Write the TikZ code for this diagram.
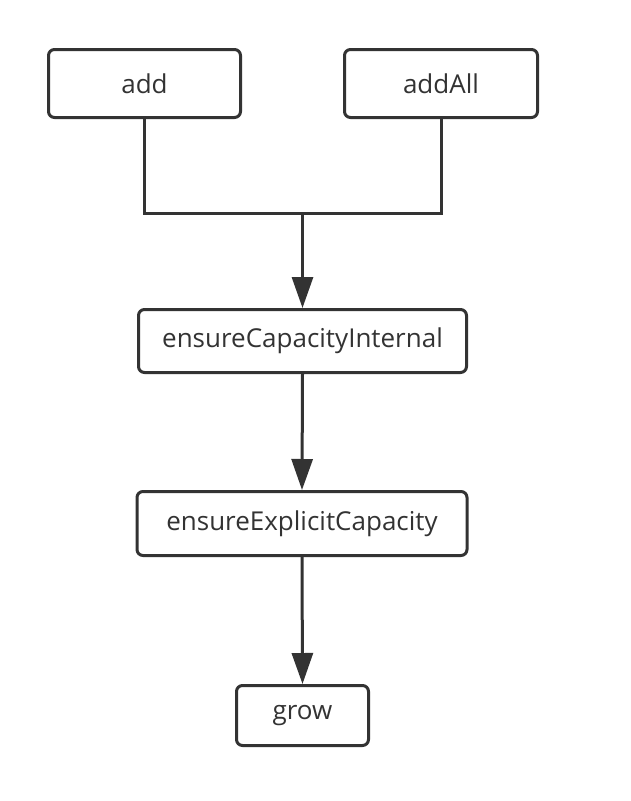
\documentclass[tikz,border=0pt]{standalone}
\usepackage{fontspec}
\setmainfont{Open Sans}
\usetikzlibrary{arrows.meta}
\definecolor{ink}{HTML}{333333}
\begin{document}
\begin{tikzpicture}[x=1pt,y=-1pt,
  box/.style={draw=ink,line width=3pt,rounded corners=6pt,fill=white,
    text=ink,font=\fontsize{26}{30}\selectfont,inner sep=0pt},
  conn/.style={draw=ink,line width=3pt},
  arr/.style={conn,-{Triangle[length=31pt,width=21pt]}}]
\useasboundingbox[fill=white] (0,0) rectangle (630,801);
\node[box,minimum width=192pt,minimum height=68pt] (add) at (144.5,83.5) {add};
\node[box,minimum width=193pt,minimum height=68pt] (addAll) at (441,83.5) {addAll};
\node[box,minimum width=328pt,minimum height=63pt] (eci) at (302.5,341) {ensureCapacityInternal};
\node[box,minimum width=330pt,minimum height=64pt] (eec) at (302,523.5) {ensureExplicitCapacity};
\node[box,minimum width=132pt,minimum height=60pt] (grow) at (302.5,715.5) {grow};
\coordinate (j) at (302.5,213);
\draw[conn] (add.south) -- (add.south |- j) -- (addAll.south |- j) -- (addAll.south);
\draw[arr] (j) -- (eci.north);
\draw[arr] (eci.south) -- (eec.north);
\draw[arr] (eec.south) -- (grow.north);
\end{tikzpicture}
\end{document}
